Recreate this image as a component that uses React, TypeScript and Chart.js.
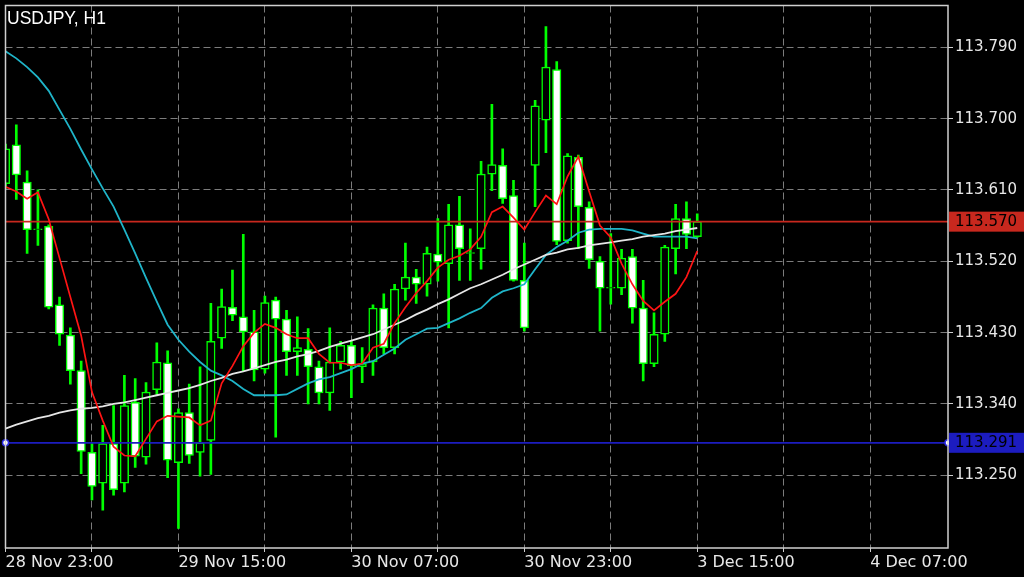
import React, { useEffect, useRef } from 'react';
import { Chart, registerables } from 'chart.js';

Chart.register(...registerables);

const chartTitle = 'USDJPY, H1';

const opens = [113.618,113.667,113.620,113.560,113.564,113.465,113.427,113.382,113.279,113.240,
113.290,113.240,113.342,113.273,113.358,113.392,113.266,113.329,113.279,113.294,
113.423,113.462,113.450,113.431,113.384,113.471,113.447,113.406,113.409,113.387,
113.354,113.393,113.414,113.387,113.393,113.461,113.411,113.485,113.500,113.491,
113.529,113.517,113.566,113.530,113.536,113.630,113.641,113.603,113.496,113.641,
113.698,113.762,113.546,113.651,113.588,113.520,113.486,113.486,113.526,113.461,
113.391,113.428,113.536,113.574,113.551];

const highs = [113.668,113.692,113.634,113.610,113.566,113.475,113.436,113.394,113.290,113.313,
113.338,113.376,113.372,113.367,113.417,113.407,113.334,113.365,113.387,113.467,
113.485,113.509,113.554,113.458,113.476,113.475,113.458,113.450,113.435,113.394,
113.436,113.419,113.419,113.411,113.465,113.479,113.491,113.543,113.510,113.538,
113.574,113.592,113.602,113.561,113.646,113.718,113.662,113.622,113.543,113.723,
113.816,113.772,113.656,113.654,113.595,113.526,113.555,113.535,113.535,113.496,
113.455,113.540,113.592,113.595,113.580];

const lows = [113.612,113.598,113.530,113.540,113.460,113.414,113.365,113.252,113.219,113.206,
113.225,113.229,113.260,113.264,113.352,113.247,113.183,113.265,113.249,113.251,
113.410,113.445,113.382,113.369,113.379,113.298,113.376,113.376,113.340,113.340,
113.332,113.384,113.348,113.367,113.376,113.403,113.403,113.471,113.467,113.476,
113.495,113.436,113.496,113.496,113.510,113.609,113.593,113.495,113.432,113.589,
113.657,113.541,113.543,113.536,113.511,113.432,113.466,113.478,113.442,113.369,
113.387,113.419,113.504,113.536,113.550];

const closes = [113.662,113.629,113.560,113.561,113.462,113.428,113.382,113.280,113.236,113.290,
113.232,113.338,113.274,113.355,113.393,113.269,113.329,113.275,113.291,113.419,
113.463,113.452,113.431,113.383,113.468,113.447,113.406,113.411,113.387,113.354,
113.393,113.414,113.388,113.391,113.461,113.411,113.485,113.500,113.491,113.530,
113.519,113.566,113.536,113.531,113.630,113.642,113.599,113.496,113.436,113.716,
113.765,113.545,113.653,113.589,113.522,113.486,113.487,113.524,113.461,113.391,
113.428,113.538,113.574,113.554,113.570];

// red (fast) moving average
const maFast = [113.614,113.608,113.599,113.607,113.573,113.524,113.475,113.426,113.355,113.319,
113.286,113.275,113.274,113.296,113.318,113.325,113.324,113.323,113.313,113.319,
113.366,113.388,113.413,113.430,113.441,113.436,113.428,113.423,113.423,113.403,
113.392,113.392,113.389,113.391,113.411,113.416,113.442,113.462,113.480,113.495,
113.512,113.522,113.527,113.535,113.551,113.582,113.589,113.575,113.560,113.582,
113.603,113.592,113.627,113.652,113.608,113.565,113.550,113.517,113.491,113.470,
113.458,113.469,113.479,113.500,113.533];

// cyan (medium) moving average
const maMid = [113.785,113.776,113.765,113.752,113.735,113.711,113.687,113.661,113.636,113.612,
113.589,113.560,113.530,113.499,113.469,113.440,113.421,113.406,113.393,113.382,
113.376,113.369,113.359,113.351,113.351,113.351,113.352,113.359,113.366,113.371,
113.374,113.379,113.384,113.391,113.394,113.402,113.410,113.421,113.428,113.435,
113.436,113.442,113.448,113.455,113.461,113.474,113.482,113.486,113.491,113.510,
113.528,113.538,113.546,113.556,113.560,113.561,113.561,113.561,113.559,113.555,
113.551,113.551,113.551,113.551,113.549];

// white (slow) moving average
const maSlow = [113.309,113.314,113.318,113.322,113.325,113.329,113.332,113.334,113.335,113.337,
113.340,113.342,113.345,113.348,113.351,113.354,113.357,113.360,113.364,113.369,
113.373,113.378,113.381,113.385,113.389,113.393,113.396,113.400,113.403,113.407,
113.412,113.416,113.420,113.424,113.428,113.434,113.440,113.446,113.453,113.459,
113.466,113.472,113.479,113.486,113.491,113.497,113.503,113.510,113.516,113.522,
113.528,113.531,113.535,113.537,113.540,113.542,113.544,113.546,113.548,113.551,
113.553,113.555,113.558,113.560,113.562];

const yTickValues = [113.25, 113.34, 113.43, 113.52, 113.61, 113.70, 113.79];
const xGridBars = [0, 8, 16, 24, 32, 40, 48, 56, 64, 72, 80];
const xLabelBars = [0, 16, 32, 48, 64, 80];
const xLabels = ['28 Nov 23:00', '29 Nov 15:00', '30 Nov 07:00', '30 Nov 23:00', '3 Dec 15:00', '4 Dec 07:00'];

const bidPrice = 113.570;
const levelPrice = 113.291;

const Y_MIN = 113.1583;
const Y_MAX = 113.8427;
const X_MIN = 0;
const X_MAX = 87.2;

const GREEN = '#00ff00';
const GRID = '#7c7c7c';
const FRAME = '#cfcfcf';
const TEXT = '#e8e8e8';
const BID_RED = '#c8281e';
const LEVEL_BLUE = '#1c1cc0';

export default function App() {
  const ref = useRef<HTMLCanvasElement | null>(null);

  useEffect(() => {
    document.body.style.margin = '0';
    document.body.style.background = '#000';
    const canvas = ref.current;
    if (!canvas) return;

    const idx = opens.map((_, i) => i);
    const wickData = idx.map((i) => ({ x: i, y: [lows[i], highs[i]] }));
    const bodyData = idx.map((i) => ({ x: i, y: [opens[i], closes[i]] }));
    const bodyFill = idx.map((i) => (closes[i] < opens[i] ? '#ffffff' : '#000000'));
    const toLine = (arr: number[]) => arr.map((v, i) => ({ x: i, y: v }));

    const bgPlugin = {
      id: 'bg',
      beforeDraw(chart: any) {
        const ctx = chart.ctx;
        ctx.save();
        ctx.fillStyle = '#000000';
        ctx.fillRect(0, 0, chart.width, chart.height);
        ctx.restore();
      },
    };

    const overlayPlugin = {
      id: 'overlay',
      afterDraw(chart: any) {
        const ctx = chart.ctx;
        const { left, right, top, bottom } = chart.chartArea;
        const ys = chart.scales.y;
        ctx.save();
        // frame
        ctx.strokeStyle = FRAME;
        ctx.lineWidth = 1.5;
        ctx.strokeRect(left, top, right - left, bottom - top);
        // title
        ctx.fillStyle = '#ffffff';
        ctx.font = '17.5px "Liberation Sans", Arial, sans-serif';
        ctx.textBaseline = 'alphabetic';
        ctx.textAlign = 'left';
        ctx.fillText(chartTitle, 7, 24);
        // price boxes
        const boxes = [
          { v: bidPrice, c: BID_RED },
          { v: levelPrice, c: LEVEL_BLUE },
        ];
        ctx.font = '15px "DejaVu Sans", sans-serif';
        ctx.textBaseline = 'middle';
        for (const b of boxes) {
          const py = ys.getPixelForValue(b.v);
          ctx.fillStyle = b.c;
          ctx.fillRect(right + 1, py - 10, chart.width - right - 1, 20);
          ctx.fillStyle = '#000000';
          ctx.fillText(b.v.toFixed(3), right + 7, py + 0.5);
        }
        ctx.restore();
      },
    };

    const chart = new Chart(canvas, {
      type: 'bar',
      data: {
        datasets: [
          {
            type: 'line',
            data: toLine(maFast),
            borderColor: '#ff1414',
            borderWidth: 1.7,
            pointRadius: 0,
            order: 1,
          } as any,
          {
            type: 'line',
            data: toLine(maSlow),
            borderColor: '#e6e6e6',
            borderWidth: 1.8,
            pointRadius: 0,
            order: 2,
          } as any,
          {
            type: 'line',
            data: toLine(maMid),
            borderColor: '#1fb4c8',
            borderWidth: 1.8,
            pointRadius: 0,
            order: 3,
          } as any,
          {
            type: 'line',
            data: [{ x: X_MIN, y: levelPrice }, { x: X_MAX, y: levelPrice }],
            borderColor: LEVEL_BLUE,
            borderWidth: 1.7,
            pointRadius: 3,
            pointBorderWidth: 1.5,
            pointBorderColor: '#2a2ae0',
            pointBackgroundColor: '#ffffff',
            clip: 6,
            order: 4,
          } as any,
          {
            type: 'line',
            data: [{ x: X_MIN, y: bidPrice }, { x: X_MAX, y: bidPrice }],
            borderColor: BID_RED,
            borderWidth: 1.7,
            pointRadius: 0,
            order: 5,
          } as any,
          {
            type: 'bar',
            data: bodyData,
            backgroundColor: bodyFill,
            borderColor: GREEN,
            borderWidth: 1.5,
            borderSkipped: false,
            grouped: false,
            barPercentage: 1,
            categoryPercentage: 1,
            maxBarThickness: 8.5,
            order: 6,
          } as any,
          {
            type: 'bar',
            data: wickData,
            backgroundColor: GREEN,
            borderWidth: 0,
            grouped: false,
            barPercentage: 1,
            categoryPercentage: 1,
            maxBarThickness: 2,
            order: 7,
          } as any,
        ],
      },
      options: {
        responsive: false,
        animation: false,
        devicePixelRatio: 1,
        layout: { padding: { left: 4, top: 3, right: 0, bottom: 0 } },
        plugins: {
          legend: { display: false },
          tooltip: { enabled: false },
        },
        scales: {
          x: {
            type: 'linear',
            position: 'bottom',
            min: X_MIN,
            max: X_MAX,
            offset: false,
            grid: {
              offset: false,
              color: GRID,
              lineWidth: 1,
              drawTicks: true,
              tickLength: 4,
              tickColor: FRAME,
              tickBorderDash: [],
            },
            border: { display: false, dash: [7, 4] },
            ticks: {
              autoSkip: false,
              maxRotation: 0,
              minRotation: 0,
              align: 'start',
              padding: 1,
              color: TEXT,
              font: { family: '"DejaVu Sans", sans-serif', size: 16 },
              callback: (v: any) => {
                const k = xLabelBars.indexOf(Number(v));
                return k >= 0 ? xLabels[k] : '';
              },
            },
            afterBuildTicks: (scale: any) => {
              scale.ticks = xGridBars.map((v) => ({ value: v }));
            },
            afterFit: (scale: any) => {
              scale.height = 29;
              scale.paddingLeft = 0;
              scale.paddingRight = 0;
            },
          },
          y: {
            type: 'linear',
            position: 'right',
            min: Y_MIN,
            max: Y_MAX,
            beginAtZero: false,
            grid: {
              color: GRID,
              lineWidth: 1,
              drawTicks: true,
              tickLength: 5,
              tickColor: FRAME,
              tickBorderDash: [],
            },
            border: { display: false, dash: [7, 4] },
            ticks: {
              padding: 2,
              color: TEXT,
              font: { family: '"DejaVu Sans", sans-serif', size: 15 },
              callback: (v: any) => Number(v).toFixed(3),
            },
            afterBuildTicks: (scale: any) => {
              scale.ticks = yTickValues.map((v) => ({ value: v }));
            },
            afterFit: (scale: any) => {
              scale.width = 76;
              scale.paddingTop = 0;
              scale.paddingBottom = 0;
            },
          },
        },
      } as any,
      plugins: [bgPlugin, overlayPlugin],
    });

    return () => {
      chart.destroy();
    };
  }, []);

  return (
    <div style={{ position: 'fixed', left: 0, top: 0, width: 1024, height: 577, background: '#000' }}>
      <canvas ref={ref} width={1024} height={577} style={{ display: 'block', width: 1024, height: 577 }} />
    </div>
  );
}
